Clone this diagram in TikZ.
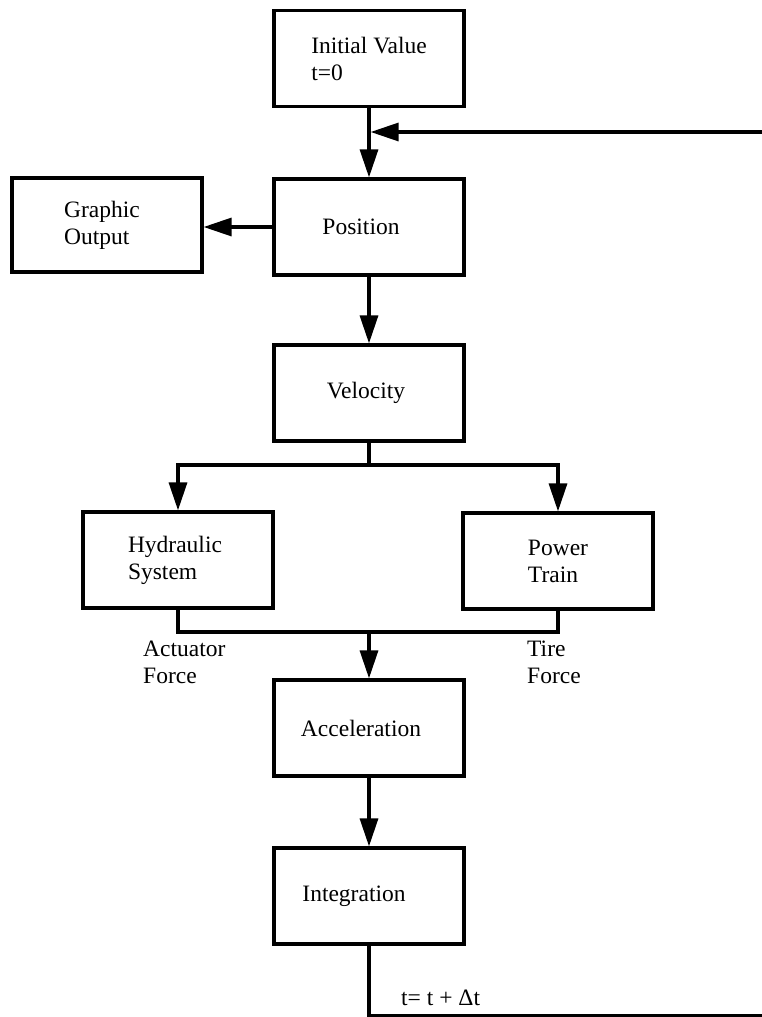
\documentclass[tikz,border=0pt]{standalone}
\usepackage{fontspec}
\setmainfont{Liberation Serif}
\usetikzlibrary{arrows.meta}
\begin{document}
\begin{tikzpicture}[x=1pt,y=-1pt,
  every node/.style={font=\fontsize{23.5}{27}\selectfont},
  box/.style={draw, line width=3.2pt, minimum width=190pt, minimum height=96pt, inner sep=0pt, align=left},
  conn/.style={line width=3.2pt},
  arr/.style={conn, -{Triangle[length=28pt,width=18pt]}},
  lbl/.style={inner sep=0pt, align=left, anchor=west}]
\useasboundingbox (0,0) rectangle (762,1017);
% boxes
\node[box] (init) at (369,58.5) {Initial Value\\t=0};
\node[box] (pos)  at (369,227) {Position\hspace*{16pt}};
\node[box, minimum height=94pt] (gout) at (107,225) {Graphic\hspace*{10pt}\\Output};
\node[box] (vel)  at (369,393) {Velocity\hspace*{6pt}};
\node[box] (hyd)  at (178,560) {Hydraulic\hspace*{6pt}\\System};
\node[box] (pt)   at (558,561) {Power\\Train};
\node[box] (acc)  at (369,728) {Acceleration\hspace*{16pt}};
\node[box] (int)  at (369,896) {Integration\hspace*{30pt}};
% labels
\node[lbl] (act)  at (143,662) {Actuator\\Force};
\node[lbl] (tire) at (527,662) {Tire\\Force};
\node[lbl] (dt)   at (401,998) {t= t + Δt};
% coordinates
\coordinate (fbT) at (762,132);
\coordinate (fbB) at (762,1016);
\coordinate (fbJ) at (init.south |- fbT);
\coordinate (br) at (369,465);
\coordinate (mg) at (369,632);
% connectors
\draw[arr] (init) -- (pos);
\draw[arr, shorten >=1.6pt] (fbT) -- (fbJ);
\draw[arr] (pos.west) -- (pos.west -| gout.east);
\draw[arr] (pos) -- (vel);
\draw[conn] (vel.south) -- (br);
\draw[arr] (br) -| (hyd.north);
\draw[arr] (br) -| (pt.north);
\draw[conn] (hyd.south) |- (mg) -| (pt.south);
\draw[arr] (mg) -- (acc.north);
\draw[arr] (acc) -- (int);
\draw[conn] (int.south) |- (fbB);
\end{tikzpicture}
\end{document}
